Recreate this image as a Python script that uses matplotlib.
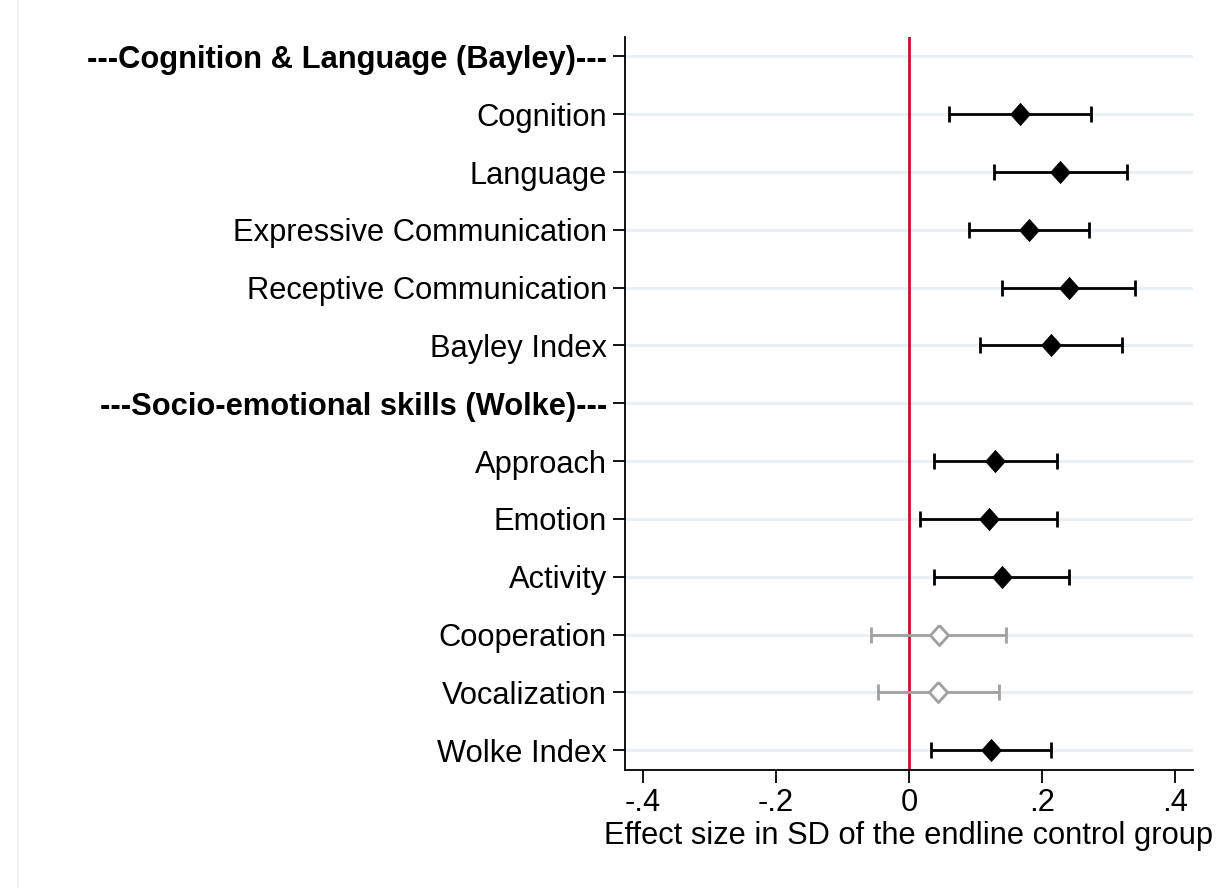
import matplotlib
matplotlib.use("Agg")
import numpy as np
from matplotlib import pyplot as plt
from matplotlib.lines import Line2D

# rows from top to bottom; headers have no estimate
labels = ["---Cognition & Language (Bayley)---", "Cognition", "Language",
          "Expressive Communication", "Receptive Communication", "Bayley Index",
          "---Socio-emotional skills (Wolke)---", "Approach", "Emotion", "Activity",
          "Cooperation", "Vocalization", "Wolke Index"]
is_header = [True, False, False, False, False, False,
             True, False, False, False, False, False, False]
est = [np.nan, 0.167, 0.227, 0.180, 0.240, 0.214,
       np.nan, 0.129, 0.120, 0.139, 0.045, 0.043, 0.123]
lo = [np.nan, 0.060, 0.128, 0.090, 0.140, 0.107,
      np.nan, 0.037, 0.016, 0.037, -0.057, -0.046, 0.033]
hi = [np.nan, 0.274, 0.327, 0.271, 0.340, 0.320,
      np.nan, 0.223, 0.223, 0.240, 0.146, 0.135, 0.213]
signif = [False, True, True, True, True, True,
          False, True, True, True, False, False, True]

xticks = [-0.4, -0.2, 0, 0.2, 0.4]
xticklabels = ["-.4", "-.2", "0", ".2", ".4"]

plt.rcParams["font.family"] = ["Liberation Sans", "DejaVu Sans"]
FS = 22.2

fig = plt.figure(figsize=(12.19, 8.88), dpi=100)
ax = fig.add_axes([0.5127, 0.133, 0.4656, 0.825])

n = len(labels)
y = np.arange(n)

# light horizontal grid at each row
for yy in y:
    ax.axhline(yy, color="#eaf0f3", lw=2.2, zorder=0)

ax.axvline(0, color="#c8102e", lw=2, zorder=1)

# stata-like diamond, a bit taller than wide
diamond = [(0, 1), (0.9, 0), (0, -1), (-0.9, 0), (0, 1)]

for i in range(n):
    if np.isnan(est[i]):
        continue
    col = "black" if signif[i] else "#a0a0a0"
    ax.errorbar(est[i], y[i], xerr=[[est[i] - lo[i]], [hi[i] - est[i]]],
                fmt="none", ecolor=col, elinewidth=2.0, capsize=6, capthick=2.0,
                zorder=2)
    ax.plot(est[i], y[i], marker=diamond, ms=16 if signif[i] else 14.5,
            mfc=col if signif[i] else "white", mec=col,
            mew=2.0 if not signif[i] else 0.5, zorder=3)

ax.set_ylim(n - 1 + 0.34, -0.33)
ax.set_xlim(-0.427, 0.426)
ax.set_yticks(y)
ax.set_yticklabels(labels, fontsize=FS)
for lab, h in zip(ax.get_yticklabels(), is_header):
    if h:
        lab.set_fontweight("bold")
ax.set_xticks(xticks)
ax.set_xticklabels(xticklabels, fontsize=FS)
ax.set_xlabel("Effect size in SD of the endline control group", fontsize=FS,
              labelpad=2)

ax.tick_params(axis="y", length=9, width=1.3, pad=4)
ax.tick_params(axis="x", length=9, width=1.3, pad=4)
for s in ["top", "right"]:
    ax.spines[s].set_visible(False)
for s in ["left", "bottom"]:
    ax.spines[s].set_linewidth(1.3)

# faint outer border line on the left like the original
fig.add_artist(Line2D([0.015, 0.015], [0, 1], color="#eef2f5", lw=1.2))

fig.savefig("out.png", dpi=100, facecolor="white")
